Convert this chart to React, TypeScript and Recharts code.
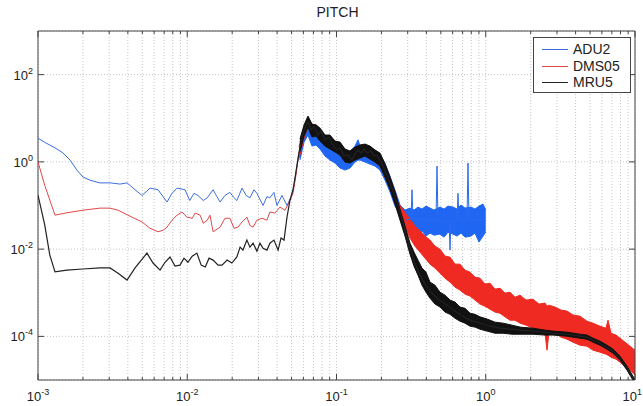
import { ComposedChart, Line, Area, XAxis, YAxis, CartesianGrid, ReferenceArea } from "recharts";

// PSD of pitch (frequency in Hz, PSD value)
const adu2LowLine: [number, number][] = [
  [0.001, 3.5], [0.00111, 2.8], [0.0013, 2.1], [0.00147, 1.6], [0.00164, 1.1], [0.00182, 0.65],
  [0.002, 0.45], [0.00223, 0.38], [0.0026, 0.33], [0.00304, 0.33], [0.00354, 0.31], [0.00395, 0.33],
  [0.00447, 0.23], [0.00498, 0.17], [0.00563, 0.25], [0.00637, 0.23], [0.00688, 0.16], [0.00732, 0.12],
  [0.0079, 0.19], [0.00854, 0.25], [0.00966, 0.23], [0.0104, 0.13], [0.0111, 0.19], [0.0118, 0.17],
  [0.0128, 0.13], [0.0136, 0.15], [0.0149, 0.23], [0.0158, 0.16], [0.0166, 0.12], [0.0179, 0.17],
  [0.0193, 0.2], [0.0206, 0.15], [0.0215, 0.13], [0.0233, 0.25], [0.0248, 0.17], [0.0263, 0.15],
  [0.028, 0.23], [0.0293, 0.19], [0.0322, 0.1], [0.0342, 0.16], [0.0358, 0.15], [0.0381, 0.2],
  [0.0399, 0.1], [0.0431, 0.17], [0.0466, 0.1], [0.0496, 0.16], [0.0519, 0.29], [0.0544, 0.85],
  [0.0569, 1.9],
];

// ADU2 above 0.28 Hz, with its narrow spikes
const adu2HighLine: [number, number][] = [
  [0.2877, 0.046], [0.3156, 0.049], [0.3205, 0.23], [0.3256, 0.049], [0.3627, 0.049], [0.4232, 0.046],
  [0.4642, 0.046], [0.4714, 0.8], [0.4786, 0.046], [0.5333, 0.042], [0.5673, 0.044], [0.5762, 0.0095],
  [0.5852, 0.044], [0.6418, 0.046], [0.6517, 0.19], [0.6619, 0.046], [0.7488, 0.046], [0.7604, 0.94],
  [0.7722, 0.046], [0.8874, 0.046], [1.0, 0.046],
];

// noisy part of ADU2: [freq, low, high]
const adu2Band: [number, number, number][] = [
  [0.0569, 1.1, 2.84], [0.0606, 2.84, 5.96], [0.0644, 4.12, 9.1], [0.0685, 2.3, 6.28], [0.0729, 2.43, 5.96],
  [0.0775, 1.97, 4.83], [0.0838, 1.36, 3.71], [0.0904, 1.1, 3.52], [0.0977, 0.94, 2.7], [0.1056, 0.72, 2.7],
  [0.114, 0.65, 1.87], [0.1231, 0.72, 1.68], [0.133, 0.99, 2.3], [0.1394, 1.1, 3.2], [0.1437, 1.1, 2.3],
  [0.1552, 0.99, 2.43], [0.1677, 0.89, 2.18], [0.1811, 0.8, 1.87], [0.1956, 0.65, 1.51], [0.2113, 0.383, 0.94],
  [0.2283, 0.203, 0.472], [0.2466, 0.097, 0.226],
  [0.2665, 0.0635, 0.1021], [0.2877, 0.0273, 0.0784], [0.3108, 0.0245, 0.0872], [0.3306, 0.0233, 0.0784],
  [0.3516, 0.0209, 0.0919], [0.374, 0.0259, 0.0827], [0.3978, 0.0199, 0.0969], [0.4232, 0.0233, 0.0872],
  [0.4501, 0.0209, 0.0784], [0.4937, 0.0221, 0.0919], [0.5253, 0.0188, 0.0827], [0.5586, 0.0245, 0.0969],
  [0.6033, 0.0221, 0.0919], [0.6418, 0.0199, 0.0827], [0.6829, 0.0233, 0.1021], [0.7261, 0.0188, 0.0872],
  [0.7963, 0.0199, 0.0919], [0.8472, 0.0233, 0.0827], [0.9012, 0.0145, 0.0969], [0.9585, 0.0199, 0.1076],
  [1.0, 0.0245, 0.0784],
];

const dms05Line: [number, number][] = [
  [0.001, 1.0], [0.00111, 0.29], [0.0013, 0.06], [0.00152, 0.067], [0.002, 0.078], [0.0026, 0.087],
  [0.00304, 0.087], [0.00344, 0.078], [0.00413, 0.057], [0.00498, 0.042], [0.00563, 0.03], [0.00637, 0.025],
  [0.00688, 0.027], [0.00732, 0.032], [0.0079, 0.046], [0.00854, 0.06], [0.00922, 0.071], [0.00996, 0.054],
  [0.0108, 0.051], [0.0113, 0.067], [0.0122, 0.06], [0.0128, 0.039], [0.0136, 0.046], [0.0142, 0.06],
  [0.0149, 0.025], [0.0166, 0.032], [0.0179, 0.051], [0.0193, 0.051], [0.0206, 0.03], [0.0219, 0.032],
  [0.0233, 0.042], [0.0251, 0.054], [0.0263, 0.035], [0.0276, 0.032], [0.0293, 0.046], [0.0317, 0.051],
  [0.0342, 0.046], [0.0358, 0.071], [0.0387, 0.067], [0.0418, 0.092], [0.0452, 0.078], [0.0488, 0.13],
  [0.0511, 0.19], [0.0535, 0.5], [0.0561, 1.7],
];

const dms05Band: [number, number, number][] = [
  [0.0561, 1.2, 2.2], [0.0606, 3.5, 6.5], [0.0644, 6.5, 10.5], [0.0685, 4.0, 7.0], [0.0729, 4.2, 7.2],
  [0.0775, 3.2, 5.6], [0.0838, 2.5, 4.0], [0.0904, 2.1, 4.0], [0.0977, 1.8, 2.9], [0.1056, 1.5, 2.7],
  [0.114, 1.05, 1.9], [0.1231, 1.0, 1.75], [0.133, 1.2, 2.1], [0.1437, 1.3, 2.4], [0.1552, 1.4, 2.5],
  [0.1677, 1.2, 2.2], [0.1811, 1.0, 1.8], [0.1956, 0.82, 1.5], [0.2113, 0.45, 0.86], [0.2283, 0.25, 0.43],
  [0.2466, 0.12, 0.2],
  [0.2583, 0.0827, 0.1135], [0.2748, 0.0514, 0.0872], [0.2923, 0.0303, 0.0635], [0.3108, 0.0179, 0.0488],
  [0.3357, 0.0117, 0.0337], [0.3627, 0.00854, 0.0259], [0.3917, 0.00622, 0.0199], [0.4232, 0.00453, 0.0161],
  [0.4571, 0.00367, 0.0117], [0.4937, 0.00281, 0.01], [0.5333, 0.00216, 0.00691], [0.5762, 0.00175, 0.00656],
  [0.6223, 0.00134, 0.00453], [0.6722, 0.00115, 0.00453], [0.7261, 0.00093, 0.0033], [0.7845, 0.00084, 0.00297],
  [0.8472, 0.00068, 0.00228], [0.9152, 0.00055, 0.00216], [0.9886, 0.00049, 0.00158], [1.068, 0.00042, 0.00166],
  [1.153, 0.00036, 0.00121], [1.246, 0.00034, 0.00127], [1.346, 0.00028, 0.00098], [1.454, 0.000235, 0.00103],
  [1.57, 0.000235, 0.00079], [1.697, 0.000201, 0.00088], [1.861, 0.000181, 0.00068], [2.073, 0.000154, 0.00071],
  [2.274, 0.000139, 0.00055], [2.495, 0.000118, 0.00058], [2.573, 0.0000483, 0.00049], [2.653, 0.000125, 0.00052],
  [2.911, 0.000118, 0.00047], [3.194, 0.0000959, 0.0004], [3.503, 0.0000862, 0.00038], [3.842, 0.0000736, 0.00031],
  [4.28, 0.0000628, 0.00029], [4.769, 0.0000596, 0.000223], [5.232, 0.0000483, 0.000201], [5.828, 0.0000434, 0.000171],
  [6.393, 0.0000391, 0.000154], [6.594, 0.000037, 0.000235], [6.906, 0.0000333, 0.000118], [7.461, 0.00003, 0.000107],
  [7.936, 0.0000256, 0.0000909], [8.57, 0.0000207, 0.0000736], [9.26, 0.0000168, 0.0000596], [10, 0.0000129, 0.0000483],
];

const mru5Line: [number, number][] = [
  [0.001, 0.173], [0.00111, 0.0355], [0.0012, 0.0073], [0.0013, 0.003], [0.00156, 0.0033], [0.002, 0.0035],
  [0.0026, 0.0037], [0.00304, 0.0037], [0.00344, 0.0028], [0.00395, 0.00195], [0.00447, 0.0037], [0.00537, 0.0081],
  [0.0059, 0.0048], [0.00657, 0.0033], [0.0071, 0.005], [0.00766, 0.0066], [0.00828, 0.0041], [0.00894, 0.0043],
  [0.00951, 0.0062], [0.0101, 0.005], [0.0108, 0.0069], [0.0116, 0.0081], [0.0124, 0.0043], [0.0132, 0.0039],
  [0.014, 0.0062], [0.0149, 0.0056], [0.0161, 0.0043], [0.0171, 0.0043], [0.0185, 0.0056], [0.0199, 0.0048],
  [0.0215, 0.0066], [0.0226, 0.0111], [0.0236, 0.0095], [0.0251, 0.0161], [0.0263, 0.0111], [0.0276, 0.0137],
  [0.0293, 0.009], [0.0307, 0.0137], [0.0322, 0.0105], [0.0342, 0.0095], [0.0358, 0.0137], [0.0381, 0.0161],
  [0.0406, 0.0095], [0.0425, 0.0179], [0.0445, 0.0161], [0.0466, 0.054], [0.0488, 0.133], [0.0511, 0.226],
  [0.0535, 0.58], [0.0561, 1.68], [0.0587, 3.7], [0.0615, 6.0], [0.0644, 8.2], [0.0675, 5.4],
  [0.0707, 6.6], [0.0752, 4.1], [0.0787, 5.1], [0.0838, 3.2], [0.0891, 3.7], [0.0947, 2.4],
  [0.1008, 1.87], [0.1056, 2.07], [0.1123, 1.36], [0.1194, 1.43], [0.127, 1.1], [0.133, 1.51],
  [0.1394, 1.87], [0.146, 1.59], [0.1529, 1.97], [0.1601, 1.59], [0.1703, 1.77], [0.1784, 1.36],
  [0.1868, 1.43], [0.1956, 1.1], [0.2049, 0.8], [0.2146, 0.55], [0.2247, 0.38], [0.2354, 0.25],
  [0.2466, 0.148], [0.2583, 0.102], [0.2705, 0.06], [0.2834, 0.032], [0.297, 0.0179], [0.3108, 0.0105],
  [0.3256, 0.0062], [0.3462, 0.0037], [0.3627, 0.0025], [0.3917, 0.00158], [0.4232, 0.00109], [0.4714, 0.00075],
  [0.5501, 0.00052], [0.6223, 0.00038], [0.7042, 0.00029], [0.7845, 0.000235], [0.9152, 0.000201], [1.068, 0.000171],
  [1.246, 0.000154], [1.454, 0.000146], [1.697, 0.000139], [2.073, 0.000132], [2.495, 0.000125], [2.823, 0.000118],
  [3.503, 0.000112], [4.28, 0.000101], [4.769, 0.0000959], [5.232, 0.0000818], [5.828, 0.0000698], [6.494, 0.0000565],
  [7.124, 0.0000458], [7.577, 0.000037], [7.936, 0.0000316], [8.436, 0.000023], [8.84, 0.0000187], [9.26, 0.0000143],
  [9.696, 0.000011], [10, 0.0000094],
];

const mru5Band: [number, number, number][] = [
  [0.0569, 1.68, 3.33], [0.0606, 3.91, 6.98], [0.0644, 6.28, 11.2], [0.0685, 3.71, 7.36], [0.0729, 3.91, 6.98],
  [0.0775, 3.0, 5.96], [0.0838, 2.3, 4.12], [0.0904, 1.97, 4.12], [0.0977, 1.68, 3.0], [0.1056, 1.43, 2.84],
  [0.114, 0.99, 1.97], [0.1231, 0.94, 1.77], [0.133, 1.1, 2.18], [0.1437, 1.22, 2.43], [0.1552, 1.36, 2.56],
  [0.1677, 1.16, 2.3], [0.1811, 0.99, 1.87], [0.1956, 0.8, 1.59], [0.2113, 0.448, 0.89], [0.2283, 0.238, 0.448],
  [0.2466, 0.108, 0.203],
  [0.2877, 0.0199, 0.0337], [0.3108, 0.00768, 0.0137], [0.3306, 0.00407, 0.00854], [0.3516, 0.00253, 0.00559],
  [0.374, 0.00149, 0.00367], [0.3978, 0.00103, 0.00297], [0.4232, 0.00075, 0.00175], [0.4571, 0.00055, 0.00149],
  [0.4937, 0.00047, 0.00103], [0.5333, 0.00036, 0.00088], [0.5762, 0.00032, 0.00068], [0.6223, 0.00026, 0.00061],
  [0.6722, 0.000223, 0.00047], [0.7261, 0.000201, 0.00044], [0.7845, 0.000171, 0.00034], [0.8472, 0.000163, 0.00032],
  [0.9152, 0.000146, 0.00028], [1.02, 0.000132, 0.00025], [1.153, 0.000118, 0.000212], [1.305, 0.000118, 0.000201],
  [1.499, 0.000112, 0.000181], [1.697, 0.000112, 0.000163], [2.073, 0.000112, 0.000154], [2.495, 0.000107, 0.000139],
  [2.823, 0.000107, 0.000132], [3.503, 0.000101, 0.000125], [4.28, 0.0000909, 0.000112], [4.769, 0.0000862, 0.000107],
  [5.232, 0.0000736, 0.0000909], [5.828, 0.0000628, 0.0000776], [6.494, 0.0000509, 0.0000628], [7.124, 0.0000412, 0.0000509],
  [7.936, 0.0000284, 0.0000351], [8.84, 0.0000168, 0.0000207], [9.696, 0.0000099, 0.0000122], [10, 0.0000084, 0.0000104],
];

const xTicks = [
  0.001, 0.002, 0.003, 0.004, 0.005, 0.006, 0.007, 0.008, 0.009,
  0.01, 0.02, 0.03, 0.04, 0.05, 0.06, 0.07, 0.08, 0.09,
  0.1, 0.2, 0.3, 0.4, 0.5, 0.6, 0.7, 0.8, 0.9,
  1, 2, 3, 4, 5, 6, 7, 8, 9, 10,
];
const yTicks = [1e-4, 1e-2, 1, 100];

const legendItems = [
  { name: "ADU2", color: "#3d6ee0" },
  { name: "DMS05", color: "#e04848" },
  { name: "MRU5", color: "#222222" },
];

const FONT = '"Liberation Sans", Arial, sans-serif';
const AXIS = "#444";
const PLOT_LEFT = 38;
const PLOT_RIGHT = 635;
const PLOT_TOP = 31;
const PLOT_BOTTOM = 380;

const toPoints = (rows: [number, number][]) => rows.map(([f, v]) => ({ f, v }));
const toBand = (rows: [number, number, number][]) => rows.map(([f, lo, hi]) => ({ f, band: [lo, hi] }));

function expOf(v: number) {
  const l = Math.log10(v);
  const e = Math.round(l);
  return { e, major: Math.abs(l - e) < 1e-6 };
}

function XTick(props: any) {
  const { x, payload } = props;
  const { e, major } = expOf(payload.value);
  const len = major ? 6 : 3;
  const last = payload.value >= 10;
  return (
    <g>
      <line x1={x} x2={x} y1={PLOT_BOTTOM} y2={PLOT_BOTTOM - len} stroke={AXIS} />
      <line x1={x} x2={x} y1={PLOT_TOP} y2={PLOT_TOP + len} stroke={AXIS} />
      {major && (
        <text x={last ? 642 : x} y={401} textAnchor={last ? "end" : "middle"} fontSize={13} fill="#222" fontFamily={FONT}>
          10<tspan dy={-6} fontSize={9}>{e}</tspan>
        </text>
      )}
    </g>
  );
}

function YTick(props: any) {
  const { y, payload } = props;
  const { e } = expOf(payload.value);
  return (
    <g>
      <line x1={PLOT_LEFT} x2={PLOT_LEFT + 6} y1={y} y2={y} stroke={AXIS} />
      <line x1={PLOT_RIGHT} x2={PLOT_RIGHT - 6} y1={y} y2={y} stroke={AXIS} />
      <text x={33} y={y + 5} textAnchor="end" fontSize={13} fill="#222" fontFamily={FONT}>
        10<tspan dy={-6} fontSize={9}>{e}</tspan>
      </text>
    </g>
  );
}

export default function App() {
  return (
    <div style={{ position: "absolute", left: 0, top: 0, width: 643, height: 406, background: "#fff", fontFamily: FONT }}>
      <div style={{ position: "absolute", left: 0, width: 675, top: 4, textAlign: "center", fontSize: 14, color: "#222" }}>
        PITCH
      </div>
      <ComposedChart width={643} height={406} margin={{ top: PLOT_TOP, right: 643 - PLOT_RIGHT, bottom: 0, left: 0 }}>
        <CartesianGrid stroke="#c4c4c4" strokeDasharray="1 2" />
        <XAxis
          dataKey="f" type="number" scale="log" domain={[0.001, 10]} allowDataOverflow
          ticks={xTicks} interval={0} tick={(p: any) => <XTick {...p} />}
          tickLine={false} axisLine={false} height={406 - PLOT_BOTTOM}
        />
        <YAxis
          type="number" scale="log" domain={[1e-5, 1000]} allowDataOverflow
          ticks={yTicks} interval={0} tick={(p: any) => <YTick {...p} />}
          tickLine={false} axisLine={false} width={PLOT_LEFT}
        />
        <Line data={toPoints(adu2LowLine)} dataKey="v" stroke="#3d6ee0" strokeWidth={1} dot={false} isAnimationActive={false} />
        <Area data={toBand(adu2Band)} dataKey="band" stroke="#1f66f2" strokeWidth={1} fill="#1f66f2" fillOpacity={1} dot={false} isAnimationActive={false} />
        <Line data={toPoints(adu2HighLine)} dataKey="v" stroke="#2a6af0" strokeWidth={1} dot={false} isAnimationActive={false} />
        <Line data={toPoints(dms05Line)} dataKey="v" stroke="#e04848" strokeWidth={1} dot={false} isAnimationActive={false} />
        <Area data={toBand(dms05Band)} dataKey="band" stroke="#ee2a22" strokeWidth={1} fill="#ee2a22" fillOpacity={1} dot={false} isAnimationActive={false} />
        <Area data={toBand(mru5Band)} dataKey="band" stroke="#111" strokeWidth={1} fill="#111" fillOpacity={1} dot={false} isAnimationActive={false} />
        <Line data={toPoints(mru5Line)} dataKey="v" stroke="#222" strokeWidth={1.2} dot={false} isAnimationActive={false} />
        <ReferenceArea x1={0.001} x2={10} y1={1e-5} y2={1000} fill="none" stroke={AXIS} ifOverflow="visible" />
      </ComposedChart>
      <div style={{ position: "absolute", left: 533, top: 37, width: 98, height: 56, border: `1px solid ${AXIS}`, background: "#fff", boxSizing: "border-box" }}>
        {legendItems.map((it, i) => (
          <div key={it.name} style={{ position: "absolute", left: 0, top: 3 + i * 16.5, height: 16, width: 96 }}>
            <div style={{ position: "absolute", left: 8, top: 8, width: 26, borderTop: `1px solid ${it.color}` }} />
            <div style={{ position: "absolute", left: 39, top: 0, fontSize: 14, lineHeight: "16px", color: "#222" }}>{it.name}</div>
          </div>
        ))}
      </div>
    </div>
  );
}
